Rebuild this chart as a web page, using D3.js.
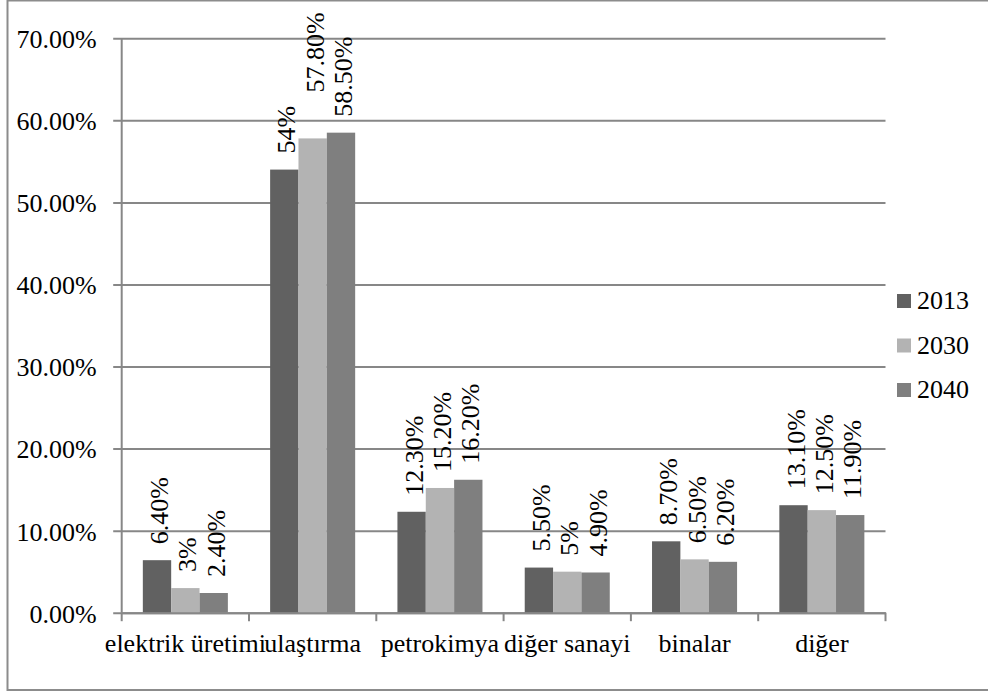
<!DOCTYPE html>
<html>
<head>
<meta charset="utf-8">
<script src="https://cdn.jsdelivr.net/npm/d3@7"></script>
<style>
  html, body { margin: 0; padding: 0; background: #fff; }
</style>
</head>
<body>
<svg id="chart" width="988" height="693" style="display:block"></svg>
<script>
const categories = ["elektrik üretimi", "ulaştırma", "petrokimya", "diğer sanayi", "binalar", "diğer"];
const seriesNames = ["2013", "2030", "2040"];
const values2013 = [6.4, 54, 12.3, 5.5, 8.7, 13.1];
const values2030 = [3, 57.8, 15.2, 5, 6.5, 12.5];
const values2040 = [2.4, 58.5, 16.2, 4.9, 6.2, 11.9];
const yTicks = [0, 10, 20, 30, 40, 50, 60, 70];
const colors = ["#616161", "#b3b3b3", "#7f7f7f"];

(function () {
const seriesValues = [values2013, values2030, values2040];
const svg = d3.select("#chart");
const fs = 26;
const FONT = '"Liberation Serif"';
const gridColor = "#878787";

// outer border (right edge is off the picture)
svg.append("rect").attr("x", 7.5).attr("y", 0.5).attr("width", 1000).attr("height", 689.5)
  .attr("fill", "none").attr("stroke", "#8c8c8c").attr("stroke-width", 2);

const pLeft = 121.7, pRight = 885.5, pTop = 38.3, pBottom = 612.7;
const y = d3.scaleLinear().domain([0, 70]).range([pBottom, pTop]);
const x0 = d3.scaleBand().domain(categories).range([pLeft, pRight]).padding(0);
const bw = x0.bandwidth();
const x1 = d3.scaleBand().domain(seriesNames).range([bw * 0.166, bw * 0.834]).padding(0);

// gridlines + y ticks
const yAxis = d3.axisLeft(y).tickValues(yTicks).tickSize(-(pRight - pLeft)).tickPadding(0)
  .tickFormat(d => d.toFixed(2) + "%");
const gy = svg.append("g").attr("transform", `translate(${pLeft},0)`).call(yAxis);
gy.select(".domain").remove();
gy.selectAll(".tick line").attr("stroke", gridColor).attr("stroke-width", 2).attr("x1", -8.5);
gy.selectAll(".tick text").attr("x", -25).attr("dy", "0.36em").attr("font-size", fs)
  .style("font-family", FONT).attr("fill", "#000").attr("text-anchor", "end");

// bars
const groups = svg.append("g").selectAll("g").data(categories).join("g")
  .attr("transform", d => `translate(${x0(d)},0)`);

const rows = (c, i) => seriesNames.map((s, j) => ({ s, j, v: seriesValues[j][i], c }));
groups.selectAll("rect").data(rows)
  .join("rect")
  .attr("x", d => x1(d.s))
  .attr("width", x1.bandwidth())
  .attr("y", d => y(d.v))
  .attr("height", d => y(0) - y(d.v))
  .attr("fill", d => colors[d.j]);

// data labels (rotated)
const fmt = v => Number.isInteger(v) ? v + "%" : v.toFixed(2) + "%";
const nudge = { "ulaştırma|2030": 30 };
groups.selectAll("text.lbl").data(rows)
  .join("text").attr("class", "lbl")
  .attr("transform", d => {
    const cx = x1(d.s) + x1.bandwidth() / 2 + 11;
    const cy = y(d.v) - 16 - (nudge[d.c + "|" + d.s] || 0);
    return `translate(${cx},${cy}) rotate(-90)`;
  })
  .attr("text-anchor", "start").attr("font-size", fs).style("font-family", FONT).attr("fill", "#000")
  .text(d => fmt(d.v));

// x axis
const xAxis = d3.axisBottom(x0).tickSize(0).tickFormat(d => d);
const gx = svg.append("g").attr("transform", `translate(0,${pBottom})`).call(xAxis);
gx.select(".domain").attr("stroke", gridColor).attr("stroke-width", 2);
gx.selectAll(".tick text").attr("y", 39).attr("dy", 0).attr("font-size", fs)
  .style("font-family", FONT).attr("fill", "#000");
// boundary ticks
const bounds = categories.map(c => x0(c)).concat([pRight]);
svg.append("g").selectAll("line").data(bounds).join("line")
  .attr("x1", d => d).attr("x2", d => d).attr("y1", pBottom).attr("y2", pBottom + 8.5)
  .attr("stroke", gridColor).attr("stroke-width", 2);
// y axis line
svg.append("line").attr("x1", pLeft).attr("x2", pLeft).attr("y1", pTop).attr("y2", pBottom)
  .attr("stroke", gridColor).attr("stroke-width", 2);

// legend
const lg = svg.append("g").selectAll("g").data(seriesNames).join("g")
  .attr("transform", (d, i) => `translate(897,${294 + i * 44.5})`);
lg.append("rect").attr("width", 14).attr("height", 14).attr("fill", (d, i) => colors[i]);
lg.append("text").attr("x", 20).attr("y", 15).attr("font-size", fs).style("font-family", FONT)
  .attr("fill", "#000").text(d => d);
})();
</script>
</body>
</html>
